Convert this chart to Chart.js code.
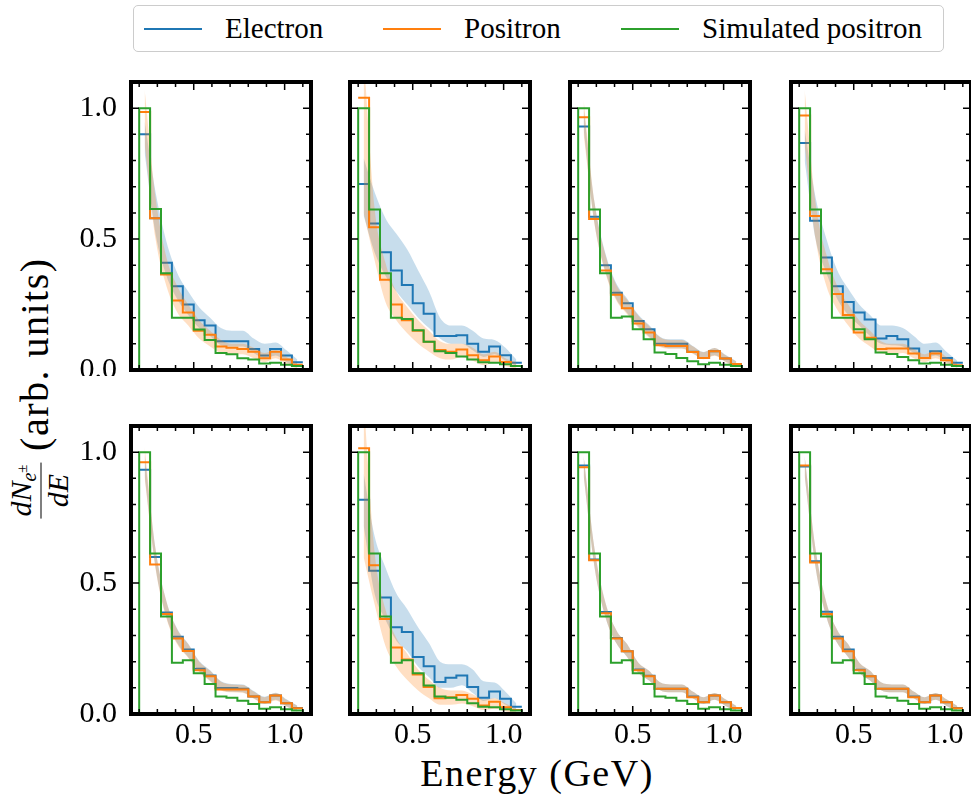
<!DOCTYPE html>
<html>
<head>
<meta charset="utf-8">
<title>Energy spectra</title>
<script src="https://cdn.jsdelivr.net/npm/chart.js@4.4.0/dist/chart.umd.min.js"></script>
<style>
    body { margin: 0; width: 971px; height: 795px; overflow: hidden; background: #fff; position: relative;
           font-family: "Liberation Serif", "DejaVu Serif", serif; color: #000; }
    canvas { position: absolute; }
    #legend { position: absolute; left: 133px; top: 5px; width: 811px; height: 47px;
              border: 1.5px solid #cccccc; border-radius: 5px; box-sizing: border-box; }
    #legend .h { position: absolute; top: 22px; height: 2px; width: 58px; }
    #legend .t { position: absolute; top: 5px; font-size: 29px; line-height: 34px; white-space: nowrap; }
    #xlab { position: absolute; left: 537px; top: 754px; transform: translateX(-50%); font-size: 38px;
            line-height: 38px; white-space: nowrap; letter-spacing: 1.5px; }
    #ylab { position: absolute; left: 39px; top: 391px; transform: translate(-50%, -50%) rotate(-90deg);
            font-size: 40px; white-space: nowrap; line-height: 1; letter-spacing: 1.5px; }
    .frac { display: inline-block; vertical-align: middle; text-align: center; font-size: 30px;
            margin-left: 6px; letter-spacing: 0; }
    .frac .num { display: block; border-bottom: 1.8px solid #000; padding: 0 2px 2px 2px; }
    .frac .den { display: block; padding-top: 1px; }
    .frac sub { font-size: 20px; vertical-align: -5px; }
    .frac sup { font-size: 15px; vertical-align: 9px; }
</style>
</head>
<body>
<div id="legend">
    <span class="h" style="left:10px;background:#1f77b4"></span><span class="t" style="left:91px">Electron</span>
    <span class="h" style="left:249px;background:#ff7f0e"></span><span class="t" style="left:330px">Positron</span>
    <span class="h" style="left:487px;background:#2ca02c"></span><span class="t" style="left:568px">Simulated positron</span>
</div>
<div id="ylab"><span class="frac"><span class="num"><i>dN</i><sub><i>e</i><sup>±</sup></sub></span><span class="den"><i>dE</i></span></span> (arb. units)</div>
<div id="xlab">Energy (GeV)</div>

<script>
    // bin edges and centres (GeV)
    const edges = [0.20, 0.26, 0.32, 0.38, 0.44, 0.50, 0.56, 0.62, 0.68, 0.74, 0.80, 0.86, 0.92, 0.98, 1.04, 1.10];
    const centers = [0.23, 0.29, 0.35, 0.41, 0.47, 0.53, 0.59, 0.65, 0.71, 0.77, 0.83, 0.89, 0.95, 1.01, 1.07];

    // one row per panel (top row left to right, then bottom row)
    const electron = [
        [0.90, 0.58, 0.41, 0.32, 0.25, 0.19, 0.17, 0.11, 0.11, 0.11, 0.08, 0.055, 0.08, 0.055, 0.03],
        [0.71, 0.56, 0.45, 0.38, 0.325, 0.255, 0.215, 0.13, 0.13, 0.133, 0.10, 0.07, 0.09, 0.056, 0.028],
        [0.93, 0.585, 0.40, 0.295, 0.255, 0.187, 0.156, 0.10, 0.10, 0.10, 0.07, 0.046, 0.072, 0.044, 0.023],
        [0.867, 0.57, 0.43, 0.32, 0.26, 0.22, 0.193, 0.12, 0.13, 0.117, 0.082, 0.046, 0.072, 0.046, 0.028],
        [0.933, 0.60, 0.388, 0.295, 0.246, 0.173, 0.147, 0.099, 0.099, 0.096, 0.067, 0.045, 0.071, 0.041, 0.023],
        [0.818, 0.547, 0.445, 0.331, 0.313, 0.218, 0.182, 0.122, 0.138, 0.147, 0.103, 0.062, 0.086, 0.058, 0.028],
        [0.949, 0.59, 0.39, 0.29, 0.24, 0.17, 0.146, 0.096, 0.096, 0.096, 0.067, 0.045, 0.071, 0.045, 0.023],
        [0.945, 0.583, 0.391, 0.295, 0.246, 0.169, 0.144, 0.096, 0.096, 0.096, 0.067, 0.045, 0.071, 0.045, 0.023]
    ];
    const positron = [
        [0.985, 0.58, 0.365, 0.265, 0.22, 0.15, 0.135, 0.09, 0.085, 0.08, 0.07, 0.045, 0.07, 0.04, 0.02],
        [1.04, 0.545, 0.345, 0.25, 0.19, 0.15, 0.108, 0.076, 0.07, 0.078, 0.056, 0.037, 0.052, 0.031, 0.015],
        [0.965, 0.577, 0.38, 0.287, 0.236, 0.178, 0.143, 0.095, 0.092, 0.092, 0.069, 0.046, 0.072, 0.044, 0.023],
        [0.972, 0.588, 0.385, 0.29, 0.21, 0.143, 0.123, 0.08, 0.082, 0.082, 0.063, 0.046, 0.063, 0.037, 0.018],
        [0.962, 0.571, 0.382, 0.288, 0.241, 0.167, 0.144, 0.094, 0.094, 0.094, 0.067, 0.045, 0.071, 0.041, 0.022],
        [1.015, 0.568, 0.363, 0.254, 0.208, 0.151, 0.103, 0.06, 0.064, 0.073, 0.058, 0.032, 0.047, 0.026, 0.015],
        [0.942, 0.587, 0.385, 0.288, 0.24, 0.167, 0.144, 0.096, 0.096, 0.096, 0.064, 0.045, 0.071, 0.045, 0.023],
        [0.949, 0.579, 0.382, 0.288, 0.24, 0.167, 0.144, 0.096, 0.096, 0.096, 0.064, 0.045, 0.071, 0.045, 0.022]
    ];
    const simulated = [
        [1.0, 0.615, 0.37, 0.2, 0.2, 0.155, 0.115, 0.065, 0.06, 0.045, 0.04, 0.025, 0.028, 0.02, 0.015],
        [1.0, 0.613, 0.37, 0.2, 0.195, 0.152, 0.108, 0.072, 0.065, 0.052, 0.04, 0.03, 0.028, 0.022, 0.015],
        [1.0, 0.613, 0.37, 0.2, 0.204, 0.156, 0.117, 0.067, 0.061, 0.046, 0.033, 0.022, 0.028, 0.02, 0.015],
        [1.0, 0.613, 0.37, 0.2, 0.2, 0.156, 0.117, 0.067, 0.061, 0.05, 0.037, 0.025, 0.028, 0.02, 0.015],
        [1.0, 0.613, 0.372, 0.196, 0.205, 0.156, 0.115, 0.067, 0.062, 0.051, 0.038, 0.02, 0.026, 0.018, 0.013],
        [1.0, 0.613, 0.372, 0.196, 0.205, 0.156, 0.109, 0.067, 0.062, 0.054, 0.041, 0.028, 0.026, 0.018, 0.013],
        [1.0, 0.613, 0.372, 0.196, 0.205, 0.156, 0.115, 0.067, 0.062, 0.051, 0.038, 0.02, 0.026, 0.018, 0.013],
        [1.0, 0.613, 0.372, 0.196, 0.205, 0.156, 0.115, 0.067, 0.062, 0.051, 0.038, 0.02, 0.026, 0.018, 0.013]
    ];

    // uncertainty bands, sampled at the bin centres
    const electronHi = [
        [0.95, 0.68, 0.49, 0.37, 0.30, 0.24, 0.20, 0.16, 0.15, 0.15, 0.12, 0.10, 0.105, 0.075, 0.04],
        [0.81, 0.68, 0.58, 0.52, 0.46, 0.38, 0.30, 0.20, 0.17, 0.17, 0.15, 0.12, 0.115, 0.085, 0.04],
        [1.0, 0.64, 0.445, 0.33, 0.272, 0.212, 0.172, 0.127, 0.117, 0.117, 0.092, 0.069, 0.084, 0.058, 0.033],
        [0.92, 0.66, 0.50, 0.38, 0.31, 0.25, 0.21, 0.17, 0.17, 0.16, 0.13, 0.10, 0.105, 0.07, 0.035],
        [0.99, 0.63, 0.43, 0.325, 0.268, 0.202, 0.167, 0.125, 0.115, 0.113, 0.088, 0.066, 0.081, 0.056, 0.032],
        [0.92, 0.68, 0.56, 0.46, 0.40, 0.33, 0.27, 0.20, 0.19, 0.19, 0.17, 0.125, 0.12, 0.085, 0.04],
        [0.985, 0.63, 0.425, 0.32, 0.266, 0.197, 0.165, 0.121, 0.113, 0.113, 0.086, 0.064, 0.08, 0.056, 0.031],
        [0.985, 0.63, 0.425, 0.32, 0.266, 0.197, 0.165, 0.121, 0.113, 0.113, 0.086, 0.064, 0.08, 0.056, 0.031]
    ];
    const electronLo = [
        [0.83, 0.52, 0.36, 0.27, 0.21, 0.16, 0.13, 0.095, 0.09, 0.09, 0.065, 0.045, 0.055, 0.03, 0.012],
        [0.59, 0.45, 0.36, 0.30, 0.25, 0.20, 0.16, 0.12, 0.10, 0.10, 0.075, 0.05, 0.06, 0.035, 0.015],
        [0.92, 0.56, 0.375, 0.27, 0.217, 0.167, 0.128, 0.093, 0.083, 0.083, 0.064, 0.043, 0.056, 0.032, 0.011],
        [0.80, 0.50, 0.37, 0.27, 0.21, 0.17, 0.13, 0.10, 0.095, 0.09, 0.065, 0.045, 0.055, 0.03, 0.01],
        [0.91, 0.56, 0.37, 0.27, 0.217, 0.163, 0.128, 0.093, 0.085, 0.083, 0.06, 0.04, 0.054, 0.03, 0.01],
        [0.72, 0.46, 0.36, 0.28, 0.24, 0.18, 0.14, 0.10, 0.10, 0.11, 0.08, 0.05, 0.06, 0.035, 0.012],
        [0.91, 0.56, 0.37, 0.27, 0.217, 0.158, 0.128, 0.091, 0.083, 0.083, 0.06, 0.039, 0.054, 0.031, 0.01],
        [0.91, 0.56, 0.37, 0.27, 0.217, 0.158, 0.128, 0.091, 0.083, 0.083, 0.06, 0.039, 0.054, 0.031, 0.01]
    ];
    const positronHi = [
        [1.07, 0.66, 0.43, 0.32, 0.25, 0.19, 0.15, 0.115, 0.10, 0.10, 0.085, 0.065, 0.075, 0.05, 0.025],
        [1.20, 0.62, 0.41, 0.30, 0.24, 0.19, 0.15, 0.11, 0.10, 0.10, 0.085, 0.06, 0.07, 0.045, 0.03],
        [1.03, 0.64, 0.44, 0.325, 0.268, 0.208, 0.168, 0.125, 0.115, 0.115, 0.091, 0.068, 0.084, 0.056, 0.032],
        [1.07, 0.64, 0.44, 0.32, 0.25, 0.19, 0.15, 0.11, 0.10, 0.10, 0.08, 0.06, 0.075, 0.05, 0.025],
        [1.02, 0.63, 0.43, 0.322, 0.266, 0.2, 0.165, 0.123, 0.113, 0.111, 0.086, 0.064, 0.08, 0.054, 0.031],
        [1.20, 0.62, 0.40, 0.29, 0.23, 0.17, 0.13, 0.10, 0.09, 0.09, 0.075, 0.055, 0.06, 0.04, 0.02],
        [0.985, 0.63, 0.425, 0.32, 0.266, 0.197, 0.165, 0.121, 0.113, 0.113, 0.086, 0.064, 0.08, 0.056, 0.031],
        [0.985, 0.63, 0.425, 0.32, 0.266, 0.197, 0.165, 0.121, 0.113, 0.113, 0.086, 0.064, 0.08, 0.056, 0.031]
    ];
    const positronLo = [
        [0.86, 0.50, 0.32, 0.22, 0.17, 0.12, 0.09, 0.065, 0.06, 0.06, 0.045, 0.03, 0.045, 0.022, 0.006],
        [0.60, 0.42, 0.26, 0.19, 0.14, 0.10, 0.07, 0.045, 0.04, 0.05, 0.035, 0.018, 0.03, 0.015, 0.005],
        [0.90, 0.555, 0.37, 0.265, 0.212, 0.162, 0.123, 0.088, 0.081, 0.081, 0.062, 0.041, 0.054, 0.03, 0.009],
        [0.86, 0.50, 0.32, 0.23, 0.17, 0.12, 0.09, 0.065, 0.06, 0.065, 0.045, 0.03, 0.045, 0.025, 0.008],
        [0.90, 0.555, 0.365, 0.265, 0.214, 0.16, 0.125, 0.09, 0.083, 0.081, 0.058, 0.038, 0.052, 0.028, 0.009],
        [0.60, 0.42, 0.26, 0.18, 0.13, 0.09, 0.06, 0.035, 0.035, 0.04, 0.03, 0.015, 0.02, 0.01, 0.003],
        [0.91, 0.56, 0.37, 0.27, 0.217, 0.158, 0.128, 0.091, 0.083, 0.083, 0.06, 0.039, 0.054, 0.031, 0.01],
        [0.91, 0.56, 0.37, 0.27, 0.217, 0.158, 0.128, 0.091, 0.083, 0.083, 0.06, 0.039, 0.054, 0.031, 0.01]
    ];

    const xTicks = [0.5, 1.0];
    const yTicks = [0.0, 0.5, 1.0];

    // layout of the 2x4 grid (plot area corners, px)
    const panelLeft = [131, 350, 570, 791];
    const panelTop = [82, 426];
    const panelW = 180, panelH = 288;
    const PAD = 6, YAXIS_W = 60, XAXIS_H = 40;

    const BLUE = '#1f77b4', ORANGE = '#ff7f0e', GREEN = '#2ca02c';
    const tickFont = { family: 'Liberation Serif', size: 30 };

    function stepPoints(vals, closed) {
        const pts = [];
        if (closed) pts.push({ x: edges[0], y: 0 });
        vals.forEach((v, i) => pts.push({ x: edges[i], y: v }));
        pts.push({ x: edges[edges.length - 1], y: vals[vals.length - 1] });
        if (closed) pts.push({ x: edges[edges.length - 1], y: 0 });
        return pts;
    }
    function bandPoints(vals) {
        return centers.map((c, i) => ({ x: c, y: vals[i] }));
    }

    // thick frame with inward ticks on all four sides
    const framePlugin = {
        id: 'frame',
        afterDatasetsDraw(chart) {
            const { ctx, chartArea: a, scales: { x, y } } = chart;
            ctx.save();
            ctx.strokeStyle = '#000';
            ctx.lineWidth = 1.5;
            ctx.beginPath();
            for (let k = 2; k <= 11; k++) {
                const px = x.getPixelForValue(k / 10);
                const len = xTicks.includes(k / 10) ? 8 : 5;
                ctx.moveTo(px, a.bottom); ctx.lineTo(px, a.bottom - len);
                ctx.moveTo(px, a.top); ctx.lineTo(px, a.top + len);
            }
            for (let k = 1; k <= 10; k++) {
                const py = y.getPixelForValue(k / 10);
                const len = yTicks.includes(k / 10) ? 8 : 5;
                ctx.moveTo(a.left, py); ctx.lineTo(a.left + len, py);
                ctx.moveTo(a.right, py); ctx.lineTo(a.right - len, py);
            }
            ctx.stroke();
            ctx.lineWidth = 4;
            ctx.lineJoin = 'miter';
            ctx.strokeRect(a.left, a.top, a.right - a.left, a.bottom - a.top);
            ctx.restore();
        }
    };

    for (let p = 0; p < 8; p++) {
        const row = Math.floor(p / 4), col = p % 4;
        const extraL = col === 0 ? YAXIS_W : 0;
        const extraB = row === 1 ? XAXIS_H : 0;
        const cv = document.createElement('canvas');
        cv.width = panelW + 2 * PAD + extraL;
        cv.height = panelH + 2 * PAD + extraB;
        cv.style.left = (panelLeft[col] - PAD - extraL) + 'px';
        cv.style.top = (panelTop[row] - PAD) + 'px';
        document.body.appendChild(cv);

        const line = (data, color, order, closed) => ({
            data: stepPoints(data, closed), borderColor: color, borderWidth: 2,
            stepped: 'before', pointRadius: 0, fill: false, order: order
        });
        const band = (data, color, order, fill) => ({
            data: bandPoints(data), borderColor: 'rgba(0,0,0,0)', borderWidth: 0, pointRadius: 0,
            cubicInterpolationMode: 'monotone', backgroundColor: color, fill: fill, order: order
        });

        new Chart(cv, {
            type: 'line',
            data: {
                datasets: [
                    line(simulated[p], GREEN, 1, true),
                    band(positronHi[p], 'rgba(255,127,14,0.25)', 2, '+1'),
                    band(positronLo[p], 'rgba(255,127,14,0.25)', 2, false),
                    line(positron[p], ORANGE, 3, false),
                    band(electronHi[p], 'rgba(31,119,180,0.25)', 4, '+1'),
                    band(electronLo[p], 'rgba(31,119,180,0.25)', 4, false),
                    line(electron[p], BLUE, 5, false)
                ]
            },
            options: {
                responsive: false,
                animation: false,
                events: [],
                layout: { padding: { left: PAD, right: PAD, top: PAD, bottom: PAD } },
                plugins: { legend: { display: false }, tooltip: { enabled: false } },
                scales: {
                    x: {
                        type: 'linear', min: 0.155, max: 1.145,
                        grid: { display: false, drawTicks: false }, border: { display: false },
                        ticks: {
                            display: row === 1, stepSize: 0.5, includeBounds: false, padding: 3,
                            maxRotation: 0, font: tickFont, color: '#000',
                            callback: v => v.toFixed(1)
                        },
                        afterFit: s => {
                            s.height = extraB;
                            s.paddingLeft = 0; s.paddingRight = 0; s.paddingTop = 0; s.paddingBottom = 0;
                        }
                    },
                    y: {
                        type: 'linear', min: 0, max: 1.1,
                        grid: { display: false, drawTicks: false }, border: { display: false },
                        ticks: {
                            display: col === 0, stepSize: 0.5, includeBounds: false, padding: 14,
                            font: tickFont, color: '#000',
                            callback: v => v.toFixed(1)
                        },
                        afterFit: s => {
                            s.width = extraL;
                            s.paddingLeft = 0; s.paddingRight = 0; s.paddingTop = 0; s.paddingBottom = 0;
                        }
                    }
                }
            },
            plugins: [framePlugin]
        });
    }
</script>
</body>
</html>
